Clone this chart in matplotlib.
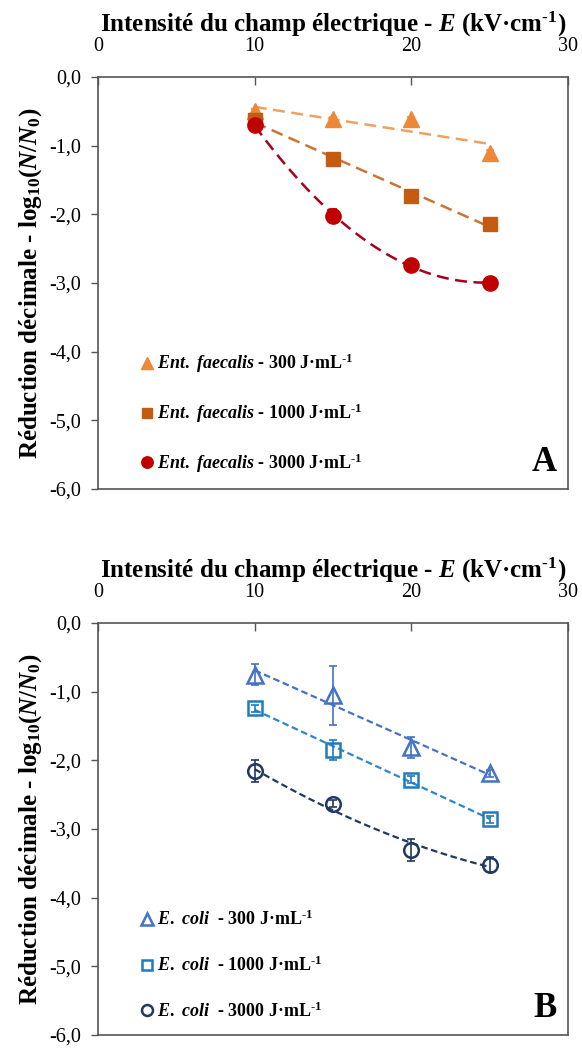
import numpy as np
import matplotlib
matplotlib.use("Agg")
import matplotlib.pyplot as plt
from matplotlib.ticker import FuncFormatter, FixedLocator

plt.rcParams['font.family'] = ['Liberation Serif', 'DejaVu Serif']
plt.rcParams['mathtext.fontset'] = 'custom'
plt.rcParams['mathtext.rm'] = 'Liberation Serif:bold'
plt.rcParams['mathtext.bf'] = 'Liberation Serif:bold'
plt.rcParams['mathtext.it'] = 'Liberation Serif:italic:bold'

# ---------------- data ----------------
E_field = [10, 15, 20, 25]

ent_300 = [-0.50, -0.61, -0.61, -1.10]
ent_1000 = [-0.63, -1.19, -1.73, -2.14]
ent_3000 = [-0.70, -2.02, -2.74, -3.00]
ent_300_err = [0.03, 0.03, 0.03, 0.03]
ent_1000_err = [0.03, 0.05, 0.04, 0.04]
ent_3000_err = [0.05, 0.10, 0.05, 0.05]

coli_300 = [-0.75, -1.05, -1.81, -2.19]
coli_1000 = [-1.24, -1.85, -2.28, -2.86]
coli_3000 = [-2.16, -2.63, -3.30, -3.52]
coli_300_err = [0.15, 0.43, 0.15, 0.05]
coli_1000_err = [0.05, 0.15, 0.05, 0.05]
coli_3000_err = [0.16, 0.05, 0.16, 0.11]

labels_A = [r"$\mathit{Ent.\ faecalis}$ - 300 J·mL$^{\text{-1}}$",
            r"$\mathit{Ent.\ faecalis}$ - 1000 J·mL$^{\text{-1}}$",
            r"$\mathit{Ent.\ faecalis}$ - 3000 J·mL$^{\text{-1}}$"]
labels_B = [r"$\mathit{E.\ coli}$  - 300 J·mL$^{\text{-1}}$",
            r"$\mathit{E.\ coli}$  - 1000 J·mL$^{\text{-1}}$",
            r"$\mathit{E.\ coli}$  - 3000 J·mL$^{\text{-1}}$"]

x_ticks = [0, 10, 20, 30]
y_ticks = [0, -1, -2, -3, -4, -5, -6]

xlabel = r"Intensité du champ électrique - $\mathit{E}$ (kV·cm$^{\text{-1}}$)"
ylabel = r"Réduction décimale - log$_{10}$($\mathit{N/N_0}$)"

# ---------------- styles ----------------
fig = plt.figure(figsize=(5.82, 10.48), dpi=100)
axA = fig.add_axes([0.1684, 0.5334, 0.8076, 0.3931])
axB = fig.add_axes([0.1684, 0.0124, 0.8076, 0.3931])

fmt = FuncFormatter(lambda v, p: f"{v:.1f}".replace('.', ',').replace('\u2212', '-'))


def style_axes(ax, letter):
    ax.set_xlim(0, 30)
    ax.set_ylim(-6, 0)
    ax.xaxis.tick_top()
    ax.xaxis.set_label_position('top')
    ax.xaxis.set_major_locator(FixedLocator(x_ticks))
    ax.yaxis.set_major_locator(FixedLocator(y_ticks))
    ax.yaxis.set_major_formatter(fmt)
    ax.tick_params(axis='x', direction='in', length=6, width=1, pad=15,
                   labelsize=14.5, color='#555555', top=True, bottom=False)
    ax.tick_params(axis='y', direction='out', length=5, width=1, pad=7,
                   labelsize=14.5, color='#555555')
    for s in ax.spines.values():
        s.set_color('#555555')
        s.set_linewidth(1.2)
    ax.set_xlabel(xlabel, fontsize=18, fontweight='bold', labelpad=4)
    ax.set_ylabel(ylabel, fontsize=18, fontweight='bold', labelpad=4)
    ax.text(0.975, 0.025, letter, transform=ax.transAxes, ha='right', va='bottom',
            fontsize=25, fontweight='bold')


x = np.array(E_field, dtype=float)
xx = np.linspace(10, 25, 100)


def series(ax, y, err, marker, color, lcolor, label, deg, dashes, lw, filled, ms):
    y = np.array(y)
    coef = np.polyfit(x, y, deg)
    ax.plot(xx, np.polyval(coef, xx), color=lcolor, lw=lw, dashes=dashes, zorder=2)
    ax.errorbar(x, y, yerr=err, fmt='none', ecolor=color, elinewidth=1.2,
                capsize=3, capthick=1.2, zorder=3)
    if filled:
        h, = ax.plot(x, y, ls='none', marker=marker, ms=ms, color=color,
                     mec=color, label=label, zorder=4)
    else:
        h, = ax.plot(x, y, ls='none', marker=marker, ms=ms, mfc='none',
                     mec=color, mew=1.8, label=label, zorder=4)
    return h


hA = [
    series(axA, ent_300, ent_300_err, '^', '#ED8838', '#F0A060', labels_A[0], 1, (4.8, 2.6), 1.8, True, 11),
    series(axA, ent_1000, ent_1000_err, 's', '#C55A11', '#CC7433', labels_A[1], 1, (4.8, 2.6), 1.8, True, 10.5),
    series(axA, ent_3000, ent_3000_err, 'o', '#C00000', '#A5001E', labels_A[2], 2, (4.8, 2.6), 1.8, True, 11),
]
hB = [
    series(axB, coli_300, coli_300_err, '^', '#4472C4', '#4472C4', labels_B[0], 1, (3, 1.6), 1.6, False, 11),
    series(axB, coli_1000, coli_1000_err, 's', '#1F7BC0', '#2E86C8', labels_B[1], 1, (3, 1.6), 1.6, False, 10),
    series(axB, coli_3000, coli_3000_err, 'o', '#203864', '#203864', labels_B[2], 2, (3, 1.6), 1.6, False, 10.5),
]

style_axes(axA, 'A')
style_axes(axB, 'B')

for ax, hs in ((axA, hA), (axB, hB)):
    leg = ax.legend(handles=hs, loc='lower left', bbox_to_anchor=(0.06, 0.0),
                    frameon=False, prop={'size': 13, 'weight': 'bold'},
                    handlelength=0.7, handletextpad=0.2, labelspacing=1.45,
                    markerscale=0.75, borderpad=0.3)

fig.savefig('out.png', dpi=100)
